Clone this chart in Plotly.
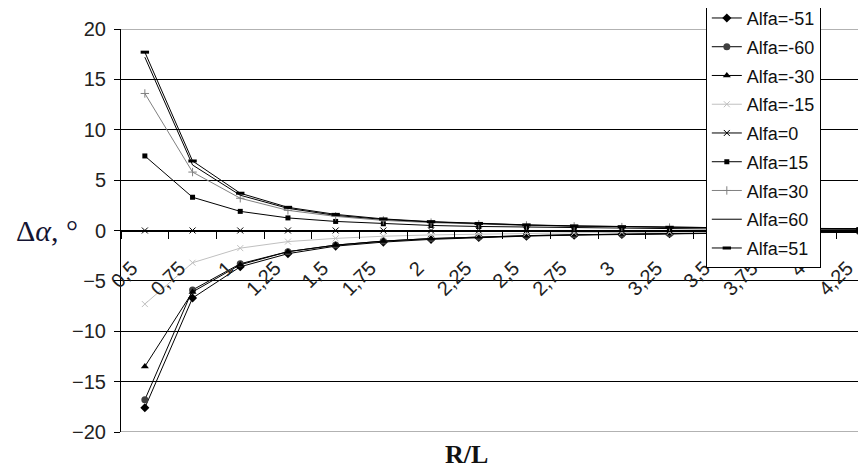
import plotly.graph_objects as go

# Categories (R/L) and tick labels
r_l = [0.5, 0.75, 1.0, 1.25, 1.5, 1.75, 2.0, 2.25, 2.5, 2.75, 3.0, 3.25, 3.5, 3.75, 4.0, 4.25]
tick_labels = ["0,5", "0,75", "1", "1,25", "1,5", "1,75", "2", "2,25", "2,5", "2,75",
               "3", "3,25", "3,5", "3,75", "4", "4,25"]

# Series values (Δα, degrees)
alfa_m51 = [-17.6, -6.7, -3.6, -2.3, -1.55, -1.15, -0.88, -0.7, -0.56, -0.46, -0.38, -0.32, -0.28, -0.24, -0.21, -0.18]
alfa_m60 = [-16.8, -5.9, -3.3, -2.1, -1.45, -1.05, -0.8, -0.64, -0.52, -0.43, -0.36, -0.3, -0.26, -0.23, -0.2, -0.17]
alfa_m30 = [-13.5, -6.1, -3.4, -2.1, -1.45, -1.05, -0.8, -0.63, -0.51, -0.42, -0.35, -0.3, -0.25, -0.22, -0.19, -0.17]
alfa_m15 = [-7.3, -3.2, -1.75, -1.1, -0.78, -0.57, -0.44, -0.35, -0.28, -0.23, -0.19, -0.16, -0.14, -0.12, -0.1, -0.09]
alfa_0 = [0, 0, 0, 0, 0, 0, 0, 0, 0, 0, 0, 0, 0, 0, 0, 0]
alfa_15 = [7.4, 3.3, 1.9, 1.25, 0.9, 0.67, 0.5, 0.4, 0.33, 0.27, 0.22, 0.19, 0.16, 0.14, 0.12, 0.11]
alfa_30 = [13.6, 5.8, 3.2, 2.0, 1.4, 1.0, 0.78, 0.62, 0.5, 0.41, 0.34, 0.29, 0.25, 0.22, 0.19, 0.17]
alfa_60 = [17.2, 6.5, 3.5, 2.2, 1.5, 1.1, 0.85, 0.67, 0.54, 0.44, 0.37, 0.31, 0.27, 0.23, 0.2, 0.18]
alfa_51 = [17.7, 6.9, 3.7, 2.3, 1.6, 1.15, 0.88, 0.7, 0.56, 0.46, 0.38, 0.32, 0.28, 0.24, 0.21, 0.18]

series = [
    ("Alfa=-51", alfa_m51, "#000000", dict(symbol="diamond", size=7, color="#000000")),
    ("Alfa=-60", alfa_m60, "#000000", dict(symbol="circle", size=7, color="#404040")),
    ("Alfa=-30", alfa_m30, "#000000", dict(symbol="triangle-up", size=7, color="#000000")),
    ("Alfa=-15", alfa_m15, "#c0c0c0", dict(symbol="x-thin", size=6, color="#c0c0c0", line=dict(width=1, color="#c0c0c0"))),
    ("Alfa=0", alfa_0, "#000000", dict(symbol="x-thin", size=6, color="#000000", line=dict(width=1, color="#000000"))),
    ("Alfa=15", alfa_15, "#000000", dict(symbol="square", size=5, color="#000000")),
    ("Alfa=30", alfa_30, "#808080", dict(symbol="cross-thin", size=6, color="#808080", line=dict(width=1, color="#808080"))),
    ("Alfa=60", alfa_60, "#000000", None),
    ("Alfa=51", alfa_51, "#000000", dict(symbol="line-ew", size=6, color="#000000", line=dict(width=3, color="#000000"))),
]

# category boundaries, where the x-axis tick marks sit
half_step = (r_l[1] - r_l[0]) / 2
boundaries = [v - half_step for v in r_l] + [r_l[-1] + half_step]

fig = go.Figure()
for name, vals, col, mk in series:
    fig.add_trace(go.Scatter(
        x=r_l, y=vals, name=name, legendgroup=name,
        mode="lines+markers" if mk else "lines",
        line=dict(color=col, width=1),
        marker=mk if mk else None,
    ))

PLOT_W = 745
x_lo = r_l[0] - half_step
x_hi = x_lo + PLOT_W / 47.7 * (r_l[1] - r_l[0])

fig.update_layout(
    width=858, height=461,
    margin=dict(l=113, r=0, t=21, b=37, autoexpand=False),
    paper_bgcolor="white", plot_bgcolor="white",
    font=dict(family="Liberation Sans, Arial, sans-serif", size=20, color="#222222"),
    showlegend=True,
    legend=dict(
        x=0.785, xanchor="left", y=1.075, yanchor="top",
        bgcolor="white", bordercolor="#000000", borderwidth=1,
        font=dict(family="Liberation Sans, Arial, sans-serif", size=18, color="#111111"),
        tracegroupgap=2.35, itemwidth=30, maxheight=400,
    ),
    xaxis=dict(
        range=[x_lo, x_hi],
        tickmode="array", tickvals=r_l, ticktext=tick_labels,
        tickangle=-45, ticks="outside", ticklen=0, tickcolor="#000000",
        showgrid=False, zeroline=False,
        showline=True, linecolor="#000000", linewidth=1,
        anchor="free", position=0.5,
        ticklabelstandoff=17, ticklabelshift=-13,
        minor=dict(tickmode="array", tickvals=boundaries, ticks="outside",
                   ticklen=7, tickcolor="#000000", tickwidth=1, showgrid=False),
        tickfont=dict(size=20, color="#222222"),
    ),
    yaxis=dict(
        range=[-20, 20], tickmode="linear", tick0=-20, dtick=5,
        showgrid=True, gridcolor="#000000", gridwidth=1,
        zeroline=False, showline=True, linecolor="#000000", linewidth=1,
        ticks="outside", ticklen=6, tickcolor="#000000",
        tickfont=dict(size=20, color="#222222"),
        ticklabelstandoff=4,
    ),
)

# gray plot-area border lines at top and bottom
fig.add_shape(type="line", xref="paper", yref="y", x0=0, x1=1, y0=20, y1=20,
              line=dict(color="#999999", width=1.5), layer="above")
fig.add_shape(type="line", xref="paper", yref="y", x0=0, x1=1, y0=-20, y1=-20,
              line=dict(color="#999999", width=1.5), layer="above")

fig.add_annotation(text="Δ<i>α</i>, °", xref="paper", yref="y", x=-0.1436, y=0,
                   xanchor="left", yanchor="middle", showarrow=False,
                   font=dict(family="Liberation Serif, Times New Roman, serif", size=30, color="#141432"))
fig.add_annotation(text="<b>R/L</b>", xref="paper", yref="paper", x=0.464, y=-0.0546,
                   xanchor="center", yanchor="middle", showarrow=False,
                   font=dict(family="Liberation Serif, Times New Roman, serif", size=26, color="#111111"))

fig.write_html("out.html")
